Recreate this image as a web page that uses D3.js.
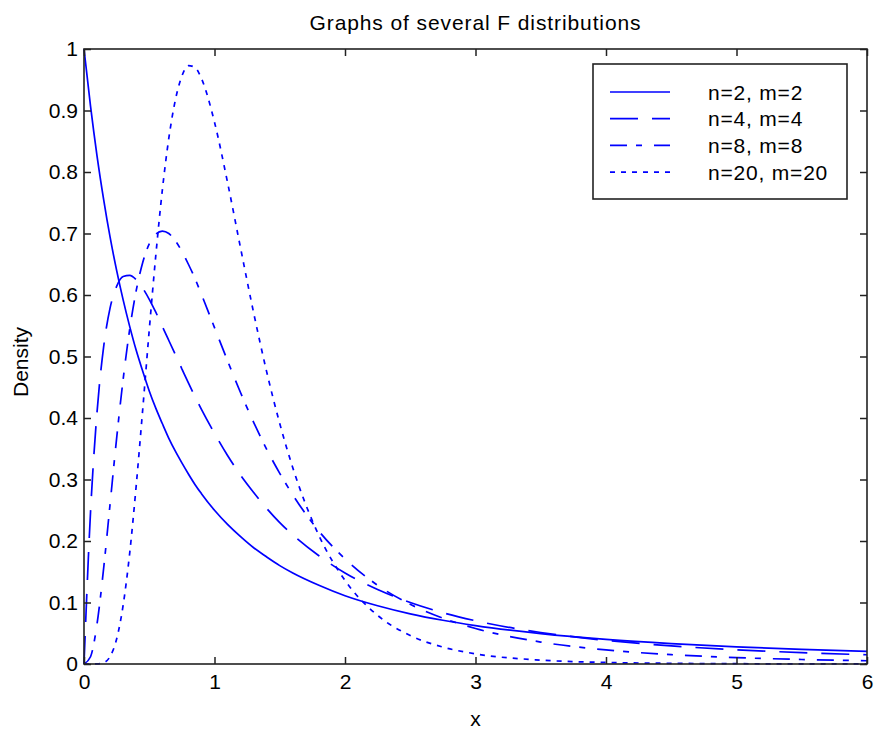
<!DOCTYPE html>
<html>
<head>
<meta charset="utf-8">
<script src="https://cdn.jsdelivr.net/npm/d3@7"></script>
<style>
  body { margin: 0; background: #fff; }
  text { font-family: "Liberation Sans", Arial, sans-serif; fill: #000; }
</style>
</head>
<body>
<script>
// x grid and density values
const xs = [0,0.05,0.1,0.15,0.2,0.25,0.3,0.35,0.4,0.45,0.5,0.55,0.6,0.65,0.7,0.75,0.8,0.85,0.9,
            1.0,1.1,1.2,1.3,1.4,1.5,1.6,1.8,2.0,2.25,2.5,2.75,3,3.5,4,4.5,5,5.5,6];
const f22 = [1,0.907,0.826,0.756,0.694,0.64,0.592,0.549,0.510,0.476,0.444,0.416,0.391,0.367,0.346,0.327,0.309,0.292,0.277,
             0.25,0.227,0.207,0.189,0.174,0.16,0.148,0.128,0.111,0.0947,0.0816,0.0711,0.0625,0.0494,0.04,0.0331,0.0278,0.0237,0.0204];
const f44 = [0,0.247,0.410,0.515,0.579,0.614,0.630,0.632,0.625,0.611,0.593,0.572,0.549,0.526,0.503,0.480,0.457,0.435,0.414,
             0.375,0.339,0.307,0.279,0.253,0.230,0.210,0.176,0.148,0.121,0.100,0.0834,0.0703,0.0512,0.0384,0.0295,0.0231,0.0185,0.015];
const f88 = [0,0.0118,0.0653,0.1545,0.2605,0.367,0.463,0.544,0.607,0.653,0.683,0.699,0.704,0.700,0.688,0.671,0.650,0.627,0.601,
             0.547,0.493,0.441,0.393,0.349,0.310,0.275,0.216,0.171,0.128,0.0971,0.0745,0.0577,0.0357,0.0229,0.0152,0.0104,0.0073,0.0053];
const f2020 = [0,0,0.0001,0.0022,0.0123,0.0406,0.0957,0.180,0.290,0.414,0.543,0.664,0.770,0.855,0.917,0.956,0.973,0.970,0.952,
               0.881,0.783,0.676,0.571,0.475,0.391,0.319,0.209,0.136,0.079,0.0463,0.0275,0.0165,0.0063,0.0025,0.0011,0.0005,0.0002,0.0001];

const labels = ["n=2, m=2","n=4, m=4","n=8, m=8","n=20, m=20"];
const dashes = [null,"28,14","17,9,6,12","5,6"];
const seriesVals = [f22,f44,f88,f2020];

const W = 876, H = 733;
const margin = {top:49,right:9,bottom:69,left:84};
const width = W - margin.left - margin.right;
const height = H - margin.top - margin.bottom;

const svg = d3.select("body").append("svg")
    .attr("width",W)
    .attr("height",H);
const g = svg.append("g")
    .attr("transform",`translate(${margin.left},${margin.top})`);

const x = d3.scaleLinear().domain([0,6]).range([0,width]);
const y = d3.scaleLinear().domain([0,1]).range([height,0]);

//curves
const line = d3.line()
    .x(d => x(d[0]))
    .y(d => y(d[1]))
    .curve(d3.curveMonotoneX);

seriesVals.forEach((vals,i) => {
    g.append("path")
        .datum(xs.map((v,j) => [v,vals[j]]))
        .attr("fill","none")
        .attr("stroke","#0000ff")
        .attr("stroke-width",1.7)
        .attr("stroke-dasharray",dashes[i])
        .attr("d",line);
});

//axes with inward ticks on all sides
const fs = "21px";
const xAxis = g.append("g")
    .attr("transform",`translate(0,${height})`)
    .call(d3.axisBottom(x).ticks(6).tickSize(-7).tickSizeOuter(0).tickPadding(14));
const yAxis = g.append("g")
    .call(d3.axisLeft(y).ticks(10).tickSize(-7).tickSizeOuter(0).tickPadding(6)
        .tickFormat(d => d3.format("~g")(d)));
g.append("g")
    .call(d3.axisTop(x).ticks(6).tickSize(-7).tickSizeOuter(0).tickFormat(""));
g.append("g")
    .attr("transform",`translate(${width},0)`)
    .call(d3.axisRight(y).ticks(10).tickSize(-7).tickSizeOuter(0).tickFormat(""));

g.selectAll(".domain").remove();
g.selectAll(".tick line").attr("stroke","#222").attr("stroke-width",1.5);
g.selectAll(".tick text").style("font-size",fs).style("font-family","Liberation Sans, Arial, sans-serif").attr("fill","#000");
xAxis.selectAll(".tick text").attr("dy","0.5em");

g.append("rect")
    .attr("width",width)
    .attr("height",height)
    .attr("fill","none")
    .attr("stroke","#222")
    .attr("stroke-width",1.6);

//titles
svg.append("text")
    .attr("x",margin.left + width/2)
    .attr("y",30)
    .attr("text-anchor","middle")
    .style("font-size",fs)
    .style("letter-spacing","0.9px")
    .text("Graphs of several F distributions");

svg.append("text")
    .attr("x",margin.left + width/2)
    .attr("y",726)
    .attr("text-anchor","middle")
    .style("font-size",fs)
    .text("x");

svg.append("text")
    .attr("transform","translate(28,362) rotate(-90)")
    .attr("text-anchor","middle")
    .style("font-size",fs)
    .text("Density");

//legend
const lg = svg.append("g").attr("transform","translate(593,64)");
lg.append("rect")
    .attr("width",254)
    .attr("height",135)
    .attr("fill","#fff")
    .attr("stroke","#222")
    .attr("stroke-width",1.6);
labels.forEach((lab,i) => {
    const yy = 28 + i*26.7;
    lg.append("line")
        .attr("x1",17).attr("x2",77)
        .attr("y1",yy).attr("y2",yy)
        .attr("stroke","#0000ff")
        .attr("stroke-width",1.7)
        .attr("stroke-dasharray",dashes[i]);
    lg.append("text")
        .attr("x",115)
        .attr("y",yy)
        .attr("dy","0.36em")
        .style("font-size",fs)
        .style("letter-spacing","0.8px")
        .text(lab);
});
</script>
</body>
</html>
